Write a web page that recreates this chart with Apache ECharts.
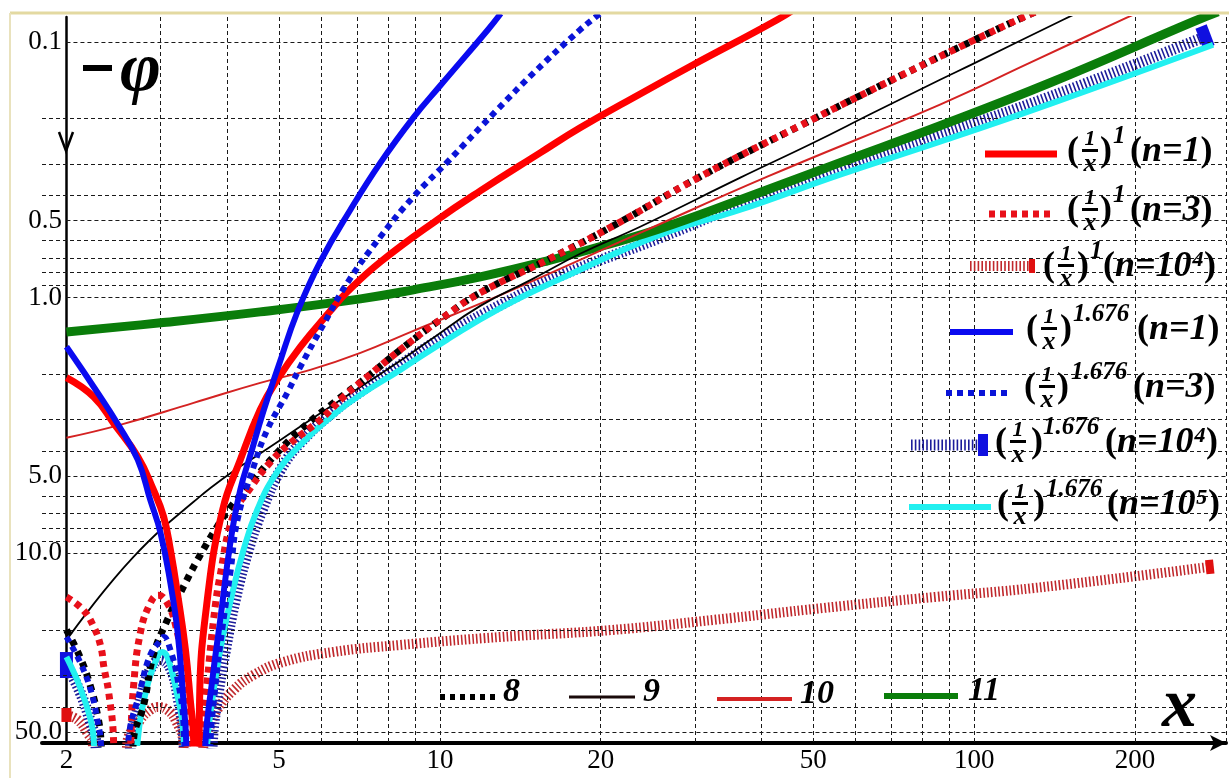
<!DOCTYPE html>
<html>
<head>
<meta charset="utf-8">
<script src="https://cdn.jsdelivr.net/npm/echarts@6/dist/echarts.min.js"></script>
<style>
  html, body { margin: 0; padding: 0; background: #fff; }
  #chart { width: 1229px; height: 778px; }
</style>
</head>
<body>
<div id="chart"></div>
<script>
// tick labels
const xTickValues = [2, 5, 10, 20, 50, 100, 200];
const yTickValues = [0.1, 0.5, 1, 5, 10, 50];
const yTickText = ['0.1', '0.5', '1.0', '5.0', '10.0', '50.0'];
const xGridValues = [3, 4, 5, 6, 7, 8, 9, 10, 20, 30, 40, 50, 60, 70, 80, 90, 100, 200, 296];
const yGridMinor = [0.2, 0.3, 0.4, 0.6, 0.7, 0.8, 0.9, 2, 3, 4, 6, 7, 8, 9, 20, 30, 40];

// curves [x, -phi]; 1000 = curve drops off the bottom (zero crossing)
const redN1 = [[2.00, 2.06], [2.25, 2.45], [2.45, 3.10], [2.72, 4.20], [2.91, 5.66], [3.04, 7.2], [3.13, 9.7],
  [3.24, 15.2], [3.34, 23.9], [3.41, 37.5], [3.46, 53.8], [3.51, 1000],
  [3.55, 37.5], [3.67, 15.2], [3.92, 6.78], [4.23, 4.32], [4.61, 2.75], [4.96, 2.10], [5.48, 1.56], [6.24, 1.128],
  [6.71, 0.951], [7.74, 0.726], [9.89, 0.497], [11.9, 0.383], [15.4, 0.272], [18.3, 0.217], [23.7, 0.160],
  [29.8, 0.123], [42.8, 0.082], [47.2, 0.072]];
const redN3 = [[2.00, 14.84], [2.15, 16.68], [2.25, 19.44], [2.32, 23.28], [2.35, 27.87], [2.40, 35.2], [2.45, 53.8], [2.54, 1000],
  [2.64, 53.8], [2.67, 33.4], [2.75, 20.5], [2.87, 15.7], [2.97, 14.6], [3.09, 15.7], [3.20, 19.1], [3.30, 27.4], [3.37, 55.3], [3.45, 1000],
  [3.56, 55.3], [3.67, 31.3], [3.77, 18.25], [3.88, 12.17], [4.11, 7.09], [4.42, 5.56], [4.82, 4.40], [5.25, 3.71],
  [5.97, 3.01], [6.60, 2.448], [7.31, 2.045], [8.43, 1.603], [10.0, 1.224], [11.9, 0.959], [15.9, 0.713], [21.1, 0.525],
  [30.7, 0.337], [47.2, 0.213], [72.7, 0.136], [99.5, 0.099], [123, 0.0805], [135, 0.074]];
const redN1e4 = [[2.00, 42.96], [2.10, 44.9], [2.19, 50.6], [2.24, 55.3], [2.40, 1000],
  [2.60, 55.3], [2.75, 44.9], [2.87, 41.07], [2.97, 40.0], [3.09, 41.07], [3.20, 44.9], [3.31, 55.3], [3.45, 1000],
  [3.61, 55.3], [3.72, 47.0], [3.83, 41.07], [4.11, 34.29], [4.48, 29.96], [5.09, 26.65], [6.32, 24.35], [8.43, 22.87],
  [13.0, 21.28], [21.0, 19.98], [32.5, 18.25], [52.2, 16.39], [84.5, 14.84], [130, 13.68], [276, 11.32]];
const blueN1 = [[2.00, 1.56], [2.25, 2.24], [2.50, 3.15], [2.72, 4.32], [2.87, 6.19], [3.00, 8.34], [3.13, 13.1],
  [3.23, 20.5], [3.31, 37.5], [3.35, 53.8], [3.48, 1000],
  [3.64, 55.3], [3.75, 31.3], [3.88, 18.25], [4.06, 8.88], [4.23, 5.66], [4.42, 4.13], [4.67, 2.80], [4.99, 1.85],
  [5.41, 1.14], [5.97, 0.726], [6.80, 0.454], [7.74, 0.297], [8.92, 0.198], [10.0, 0.149], [12.3, 0.0897], [13.0, 0.0775]];
const blueN3 = [[2.00, 21.28], [2.12, 26.65], [2.22, 34.29], [2.29, 46.0], [2.32, 55.3], [2.45, 1000],
  [2.61, 55.3], [2.75, 34.29], [2.87, 25.0], [3.00, 21.9], [3.04, 21.28], [3.13, 23.9], [3.23, 31.3], [3.31, 46.0], [3.50, 1000],
  [3.72, 55.3], [3.80, 33.4], [3.92, 19.44], [4.06, 11.63], [4.18, 7.42], [4.48, 4.60], [4.75, 3.30], [5.18, 2.362],
  [5.48, 1.868], [6.05, 1.28], [6.71, 0.877], [7.74, 0.579], [8.92, 0.404], [10.3, 0.297], [12.8, 0.1845],
  [15.0, 0.132], [18.3, 0.0897], [19.5, 0.0805], [20.5, 0.074]];
const blueN1e4 = [[2.00, 27.4], [2.12, 34.9], [2.22, 46.0], [2.27, 55.3], [2.42, 1000],
  [2.64, 55.3], [2.75, 37.5], [2.87, 28.6], [3.00, 26.17], [3.13, 28.2], [3.24, 37.5], [3.32, 55.3], [3.52, 1000],
  [3.75, 55.3], [3.83, 37.5], [3.97, 23.9], [4.14, 15.25], [4.38, 9.72], [4.65, 6.78], [5.03, 4.73], [5.48, 3.71],
  [6.32, 2.803], [7.10, 2.341], [8.43, 1.835], [10.3, 1.40], [13.0, 1.069], [16.8, 0.823], [25.8, 0.585],
  [36.5, 0.434], [56.1, 0.311], [86.3, 0.231], [138.7, 0.164], [270.4, 0.0956]];
const cyanN1e5 = [[2.00, 25.47], [2.12, 33.4], [2.22, 44.9], [2.25, 53.8], [2.40, 1000],
  [2.72, 53.8], [2.83, 33.4], [2.96, 25.5], [3.02, 24.35], [3.09, 25.5], [3.20, 33.4], [3.31, 50.6], [3.50, 1000],
  [3.67, 55.3], [3.75, 37.5], [3.88, 23.9], [4.06, 15.25], [4.29, 9.72], [4.55, 6.78], [4.92, 4.94], [5.48, 3.77],
  [6.32, 2.88], [7.10, 2.405], [8.43, 1.92], [10.3, 1.465], [13.0, 1.098], [16.8, 0.846], [25.8, 0.569],
  [36.5, 0.454], [56.1, 0.331], [86.3, 0.246], [138.7, 0.175], [280, 0.1027]];
const curve8 = [[2.00, 19.98], [2.12, 25.5], [2.22, 33.4], [2.29, 43.7], [2.32, 53.8], [2.49, 1000],
  [2.67, 53.8], [2.79, 39.3], [2.91, 25.0], [3.09, 18.25], [3.31, 13.56], [3.56, 10.17], [3.88, 7.55], [4.06, 6.6],
  [4.48, 5.17], [4.88, 4.20], [5.48, 3.296], [6.32, 2.585], [7.31, 2.045], [8.43, 1.603], [10.0, 1.224], [11.9, 0.959],
  [15.9, 0.713], [21.1, 0.525], [30.7, 0.337], [47.2, 0.213], [72.7, 0.136], [99.5, 0.099], [123, 0.0805], [135, 0.074]];
const curve9 = [[2.00, 21.9], [2.19, 16.98], [2.42, 13.08], [2.67, 10.34], [3.00, 8.12], [3.46, 6.30], [3.72, 5.56],
  [4.11, 4.77], [4.42, 4.32], [5.03, 3.607], [5.80, 2.958], [7.10, 2.238], [8.43, 1.770], [9.60, 1.465], [11.9, 1.079],
  [14.8, 0.8535], [18.3, 0.675], [23.7, 0.529], [36.5, 0.340], [50.0, 0.2484], [64.7, 0.1896], [86.3, 0.1408],
  [99.5, 0.122], [146.7, 0.082], [158, 0.0763]];
const curve10 = [[2.00, 3.54], [2.52, 3.151], [3.46, 2.585], [4.61, 2.159], [5.72, 1.92], [7.10, 1.647], [8.92, 1.351],
  [13.0, 0.977], [23.7, 0.559], [41.0, 0.337], [86.3, 0.176], [127, 0.121], [193, 0.0805], [213, 0.0736]];
const curve11 = [[2.00, 1.364], [3.00, 1.257], [4.61, 1.139], [7.10, 1.013], [8.92, 0.934], [11.9, 0.831], [15.9, 0.719],
  [21.1, 0.6115], [25.8, 0.539], [36.5, 0.415], [56.1, 0.297], [86.3, 0.213], [138.7, 0.1446], [256.8, 0.0835], [286, 0.0763]];

const serif = '"Liberation Serif", "Times New Roman", serif';

const styles = {
  redSolid: { color: '#ff0000', width: 7 },
  redDot: { color: '#e8101a', width: 7, type: [6, 5] },
  redHatch: { color: '#c0282c', width: 10, type: [1.6, 2.2] },
  blueSolid: { color: '#0a0af0', width: 6 },
  blueDot: { color: '#0a14d8', width: 6, type: [6, 5] },
  blueHatch: { color: '#1c1c9a', width: 11, type: [1.6, 2.2] },
  cyan: { color: '#22f0f0', width: 6 },
  blackDot: { color: '#000000', width: 7, type: [6, 6] },
  blackThin: { color: '#000000', width: 1.8 },
  redThin: { color: '#d42222', width: 2 },
  green: { color: '#0a7d0a', width: 9 },
}

function curve(name, data, st, z, ends) {
  const items = data.map((d, i) => {
    if (ends && i === 0 && ends.first) return { value: d, ...ends.first }
    if (ends && i === data.length - 1 && ends.last) return { value: d, ...ends.last }
    return d
  })
  return {
    name,
    type: 'line',
    data: items,
    z,
    symbol: 'none',
    showSymbol: !!ends,
    smooth: 0.45,
    clip: true,
    silent: true,
    animation: false,
    lineStyle: { color: st.color, width: st.width, type: st.type || 'solid', cap: 'butt', join: 'round' },
    itemStyle: { color: ends && ends.color ? ends.color : st.color },
  }
}

const gridSeries = {
  type: 'line',
  data: [],
  z: 1,
  silent: true,
  animation: false,
  markLine: {
    silent: true,
    symbol: 'none',
    animation: false,
    label: { show: false },
    lineStyle: { color: '#1a1a1a', width: 1, type: [4, 3] },
    data: [
      ...xGridValues.map((v) => ({ xAxis: v })),
      ...yGridMinor.map((v) => ({ yAxis: v })),
      ...yTickValues.map((v) => [{ coord: [2, v] }, { coord: [296, v] }]),
    ],
  },
}

// legend rows on the right
const legendRows = [
  { y: 152, pL: 1067, fx: 1090, pR: 1100, sx: 1113, sup: '1', nx: 1130, n: 'n=1', icon: [985, 1057, 154], st: styles.redSolid },
  { y: 211, pL: 1067, fx: 1090, pR: 1100, sx: 1113, sup: '1', nx: 1130, n: 'n=3', icon: [989, 1055, 214], st: styles.redDot },
  { y: 267, pL: 1043, fx: 1066, pR: 1077, sx: 1090, sup: '1', nx: 1103, n: 'n=10⁴', icon: [970, 1029, 266], st: styles.redHatch, cap: [1029, 1035, 14, '#e01010'] },
  { y: 330, pL: 1026, fx: 1049, pR: 1060, sx: 1073, sup: '1.676', nx: 1137, n: 'n=1', icon: [950, 1013, 332], st: styles.blueSolid },
  { y: 388, pL: 1024, fx: 1047, pR: 1057, sx: 1071, sup: '1.676', nx: 1133, n: 'n=3', icon: [946, 1011, 393], st: styles.blueDot },
  { y: 443, pL: 995, fx: 1018, pR: 1031, sx: 1043, sup: '1.676', nx: 1105, n: 'n=10⁴', icon: [911, 978, 445], st: styles.blueHatch, cap: [978, 988, 22, '#1010e0'] },
  { y: 505, pL: 997, fx: 1020, pR: 1033, sx: 1046, sup: '1.676', nx: 1107, n: 'n=10⁵', icon: [909, 991, 507], st: styles.cyan },
]

const bottomLegend = [
  { text: '8', x1: 440, x2: 497, y: 697, tx: 503, st: { color: '#000', width: 6, type: [5, 5] }, box: [438, 672, 95, 40] },
  { text: '9', x1: 569, x2: 635, y: 697, tx: 643, st: { color: '#1a0a0a', width: 3 }, box: [563, 672, 110, 40] },
  { text: '10', x1: 717, x2: 792, y: 699, tx: 800, st: { color: '#d42222', width: 4 }, box: [712, 672, 135, 40] },
  { text: '11', x1: 884, x2: 958, y: 696, tx: 968, st: { color: '#0a7d0a', width: 6 }, box: [880, 672, 128, 40] },
]

const graphics = []
// frame
graphics.push({ type: 'line', shape: { x1: 10, y1: 13, x2: 1229, y2: 13 }, style: { stroke: '#e3d9a1', lineWidth: 3 }, z: 30 })
graphics.push({ type: 'line', shape: { x1: 10, y1: 13, x2: 10, y2: 778 }, style: { stroke: '#e9e2bd', lineWidth: 2 }, z: 30 })
// arrow on the vertical axis
graphics.push({ type: 'polyline', shape: { points: [[59, 132], [66, 151], [73, 132]] }, style: { stroke: '#000', lineWidth: 2.5, fill: null }, z: 30 })
// axis titles
graphics.push({ type: 'rect', shape: { x: 83, y: 65, width: 29, height: 6 }, style: { fill: '#000' }, z: 30 })
graphics.push({ type: 'text', x: 120, y: 72, style: { text: 'φ', font: `italic bold 70px ${serif}`, fill: '#000', verticalAlign: 'middle' }, z: 30 })
graphics.push({ type: 'text', x: 1162, y: 708, style: { text: 'x', font: `italic bold 70px ${serif}`, fill: '#000', verticalAlign: 'middle' }, z: 30 })

legendRows.forEach((r) => {
  graphics.push({ type: 'rect', shape: { x: r.pL - 4, y: r.y - 27, width: 1226 - r.pL + 4, height: 54 }, style: { fill: '#fff' }, z: 2 })
  graphics.push({
    type: 'line', shape: { x1: r.icon[0], y1: r.icon[2], x2: r.icon[1], y2: r.icon[2] },
    style: { stroke: r.st.color, lineWidth: r.st.width, lineDash: Array.isArray(r.st.type) ? r.st.type : null }, z: 30,
  })
  if (r.cap) {
    graphics.push({ type: 'rect', shape: { x: r.cap[0], y: r.icon[2] - r.cap[2] / 2, width: r.cap[1] - r.cap[0], height: r.cap[2] }, style: { fill: r.cap[3] }, z: 30 })
  }
  graphics.push({ type: 'text', x: r.pL, y: r.y, style: { text: '(', font: `bold 36px ${serif}`, fill: '#000', verticalAlign: 'middle' }, z: 30 })
  graphics.push({ type: 'text', x: r.fx, y: r.y - 13, style: { text: '1', font: `italic bold 22px ${serif}`, fill: '#000', align: 'center', verticalAlign: 'middle' }, z: 30 })
  graphics.push({ type: 'rect', shape: { x: r.fx - 8, y: r.y - 3, width: 16, height: 3 }, style: { fill: '#000' }, z: 30 })
  graphics.push({ type: 'text', x: r.fx, y: r.y + 12, style: { text: 'x', font: `italic bold 26px ${serif}`, fill: '#000', align: 'center', verticalAlign: 'middle' }, z: 30 })
  graphics.push({ type: 'text', x: r.pR, y: r.y, style: { text: ')', font: `bold 36px ${serif}`, fill: '#000', verticalAlign: 'middle' }, z: 30 })
  graphics.push({ type: 'text', x: r.sx, y: r.y - 15, style: { text: r.sup, font: `italic bold 25px ${serif}`, fill: '#000', verticalAlign: 'middle' }, z: 30 })
  graphics.push({
    type: 'text', x: r.nx, y: r.y,
    style: {
      text: `{p|(}{i|${r.n}}{p|)}`, fill: '#000', verticalAlign: 'middle',
      rich: {
        p: { fontFamily: serif, fontWeight: 'bold', fontSize: 36 },
        i: { fontFamily: serif, fontWeight: 'bold', fontStyle: 'italic', fontSize: 36 },
      },
    },
    z: 30,
  })
})

bottomLegend.forEach((b) => {
  graphics.push({ type: 'rect', shape: { x: b.box[0], y: b.box[1], width: b.box[2], height: b.box[3] }, style: { fill: '#fff' }, z: 2 })
  graphics.push({
    type: 'line', shape: { x1: b.x1, y1: b.y, x2: b.x2, y2: b.y },
    style: { stroke: b.st.color, lineWidth: b.st.width, lineDash: b.st.type || null }, z: 30,
  })
  graphics.push({ type: 'text', x: b.tx, y: b.y - 5, style: { text: b.text, font: `italic bold 34px ${serif}`, fill: '#000', verticalAlign: 'middle' }, z: 30 })
})

const chart = echarts.init(document.getElementById('chart'))

const option = {
  backgroundColor: '#fff',
  animation: false,
  grid: { left: 42, right: 3, top: 17, bottom: 35, containLabel: false, outerBoundsMode: 'none' },
  xAxis: {
    type: 'log',
    logBase: 10,
    min: 1.8,
    max: 296,
    axisLine: { show: true, lineStyle: { color: '#000', width: 4 }, symbol: ['none', 'arrow'], symbolSize: [12, 16] },
    axisTick: { show: false },
    splitLine: { show: false },
    axisLabel: {
      customValues: xTickValues,
      formatter: (v) => String(Math.round(v)),
      color: '#000',
      fontFamily: serif,
      fontSize: 27,
      margin: 4,
    },
  },
  yAxis: {
    type: 'log',
    logBase: 10,
    inverse: true,
    min: 0.08,
    max: 55.3,
    offset: -24,
    axisLine: { show: true, lineStyle: { color: '#000', width: 2.5 } },
    axisTick: { show: false },
    splitLine: { show: false },
    axisLabel: {
      customValues: yTickValues,
      formatter: (v) => {
        const i = yTickValues.findIndex((t) => Math.abs(t - v) / t < 1e-6)
        return i >= 0 ? yTickText[i] : ''
      },
      color: '#000',
      fontFamily: serif,
      fontSize: 27,
      margin: 4,
    },
  },
  graphic: graphics,
  series: [
    gridSeries,
    curve('(1/x)^1 (n=10^4)', redN1e4, styles.redHatch, 3, {
      color: '#e01010',
      first: { symbol: 'rect', symbolSize: [10, 14] },
      last: { symbol: 'rect', symbolSize: [8, 14], symbolRotate: 6 },
    }),
    curve('(1/x)^1.676 (n=10^4)', blueN1e4, styles.blueHatch, 4, {
      color: '#1010e0',
      first: { symbol: 'rect', symbolSize: [13, 26] },
      last: { symbol: 'rect', symbolSize: [12, 22], symbolRotate: 21 },
    }),
    curve('(1/x)^1.676 (n=10^5)', cyanN1e5, styles.cyan, 5),
    curve('11', curve11, styles.green, 6),
    curve('10', curve10, styles.redThin, 7),
    curve('9', curve9, styles.blackThin, 8),
    curve('8', curve8, styles.blackDot, 9),
    curve('(1/x)^1 (n=3)', redN3, styles.redDot, 10),
    curve('(1/x)^1 (n=1)', redN1, styles.redSolid, 11),
    curve('(1/x)^1.676 (n=3)', blueN3, styles.blueDot, 12),
    curve('(1/x)^1.676 (n=1)', blueN1, styles.blueSolid, 13),
  ],
}

chart.setOption(option)
</script>
</body>
</html>
